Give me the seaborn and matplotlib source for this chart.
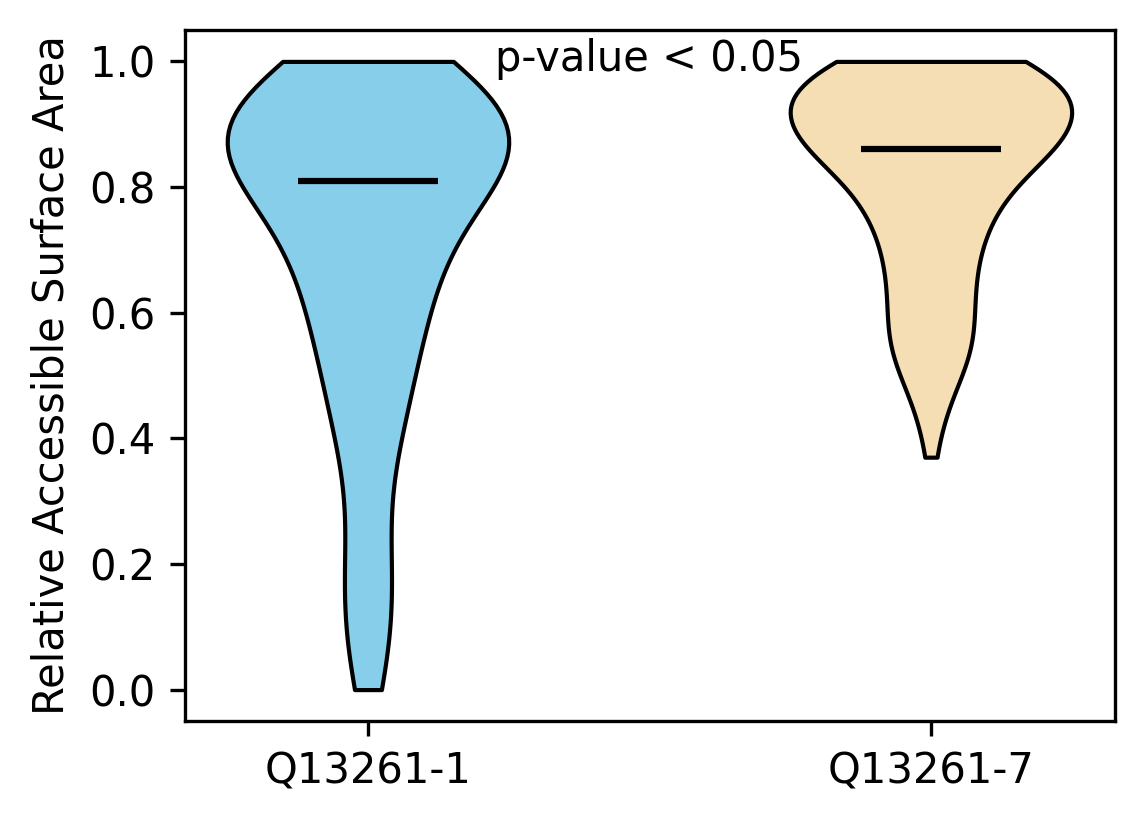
import numpy as np
import pandas as pd
import matplotlib
matplotlib.use("Agg")
import matplotlib.pyplot as plt
import seaborn as sns

categories = ["Q13261-1", "Q13261-7"]
colors = ["skyblue", "wheat"]

rsa_iso1 = [
    0.00, 0.01, 0.03, 0.04, 0.06, 0.09, 0.11, 0.12, 0.13, 0.14,
    0.16, 0.18, 0.19, 0.21, 0.22, 0.24, 0.26, 0.29, 0.31, 0.34,
    0.36, 0.38, 0.39, 0.40, 0.41, 0.42, 0.43, 0.44, 0.45, 0.46, 0.47, 0.48, 0.49,
    0.50, 0.51, 0.51, 0.52, 0.53, 0.54,
    0.55, 0.56, 0.57, 0.57, 0.58, 0.59, 0.59,
    0.60, 0.61, 0.61, 0.62, 0.62, 0.63, 0.64, 0.64, 0.64,
    0.65, 0.66, 0.66, 0.67, 0.68, 0.69, 0.69,
    0.70, 0.70, 0.71, 0.71, 0.72, 0.72, 0.73, 0.73, 0.74, 0.74, 0.74,
    0.75, 0.75, 0.76, 0.76, 0.77, 0.77, 0.78, 0.78, 0.79, 0.79,
    0.81, 0.81, 0.81, 0.81, 0.81, 0.82, 0.82, 0.82, 0.82, 0.83, 0.83, 0.83, 0.83,
    0.84, 0.84, 0.84, 0.84, 0.84, 0.84, 0.84,
    0.85, 0.85, 0.85, 0.85, 0.85, 0.86, 0.86, 0.86, 0.86, 0.86,
    0.87, 0.87, 0.87, 0.87,
    0.88, 0.88, 0.88, 0.88, 0.88, 0.89, 0.89, 0.89, 0.89,
    0.90, 0.90, 0.90, 0.90, 0.91, 0.91, 0.91, 0.91, 0.92, 0.92, 0.92, 0.92,
    0.93, 0.93, 0.93, 0.93, 0.94, 0.94, 0.94, 0.94,
    0.95, 0.95, 0.95, 0.95, 0.96, 0.96, 0.96, 0.96, 0.97, 0.97, 0.97, 0.97,
    0.98, 0.98, 0.98, 0.99, 0.99, 0.99,
    1.00, 1.00, 1.00, 1.00, 1.00,
]
rsa_iso7 = [
    0.37, 0.42, 0.44, 0.46, 0.48, 0.49,
    0.50, 0.51, 0.52, 0.53, 0.53, 0.54, 0.54,
    0.55, 0.55, 0.56, 0.56, 0.57, 0.58, 0.59, 0.59,
    0.60, 0.61, 0.61, 0.62, 0.63, 0.64, 0.64,
    0.65, 0.66, 0.66, 0.67, 0.68, 0.68, 0.69, 0.69,
    0.70, 0.71, 0.72, 0.72, 0.73, 0.73, 0.74, 0.74,
    0.75, 0.75, 0.76, 0.76, 0.77, 0.77, 0.78, 0.78, 0.78, 0.79, 0.79, 0.79,
    0.80, 0.80, 0.81, 0.82, 0.82, 0.82, 0.83, 0.83, 0.83,
    0.84, 0.84, 0.84, 0.84,
    0.85, 0.85, 0.85, 0.85, 0.86, 0.86, 0.86, 0.86, 0.86, 0.86,
    0.87, 0.87, 0.87, 0.87, 0.87,
    0.88, 0.88, 0.88, 0.88, 0.88, 0.89, 0.89, 0.89, 0.89, 0.89,
    0.90, 0.90, 0.90, 0.90, 0.90, 0.91, 0.91, 0.91, 0.91, 0.91,
    0.92, 0.92, 0.92, 0.92, 0.92, 0.92, 0.93, 0.93, 0.93, 0.93, 0.93,
    0.94, 0.94, 0.94, 0.94, 0.94,
    0.95, 0.95, 0.95, 0.95, 0.95, 0.96, 0.96, 0.96, 0.96, 0.96,
    0.97, 0.97, 0.97, 0.97, 0.97, 0.98, 0.98, 0.98, 0.98, 0.98,
    0.99, 0.99, 0.99, 0.99, 0.99, 0.99,
    1.00, 1.00, 1.00, 1.00, 1.00, 1.00, 1.00, 1.00, 1.00, 1.00, 1.00,
]

df = pd.DataFrame({
    "isoform": [categories[0]] * len(rsa_iso1) + [categories[1]] * len(rsa_iso7),
    "rsa": rsa_iso1 + rsa_iso7,
})

plt.rcParams["font.family"] = ["DejaVu Sans"]
fig = plt.figure(figsize=(1144 / 300, 824 / 300), dpi=300)
ax = fig.add_axes([185 / 1144, 1 - 721 / 824, (1115 - 185) / 1144, (721 - 30) / 824])

sns.violinplot(data=df, x="isoform", y="rsa", hue="isoform", order=categories,
               hue_order=categories, palette=colors, saturation=1, cut=0,
               inner=None, width=0.5, density_norm="width", linewidth=1,
               linecolor="black", legend=False, ax=ax)

for i, vals in enumerate([rsa_iso1, rsa_iso7]):
    med = np.median(vals)
    ax.hlines(med, i - 0.125, i + 0.125, colors="black", linewidth=1.5, zorder=5)

ax.set_xlim(-0.325, 1.327)
ax.set_ylim(-0.05, 1.05)
ax.set_xlabel("")
ax.set_ylabel("Relative Accessible Surface Area", fontsize=10)
ax.tick_params(labelsize=10)
ax.text(0.5, 0.985, "p-value < 0.05", ha="center", va="baseline", fontsize=10)

fig.savefig("out.png", dpi=300)
